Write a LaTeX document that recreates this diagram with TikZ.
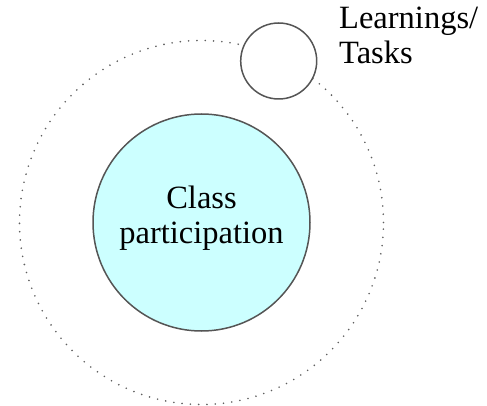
\documentclass[tikz,border=0pt]{standalone}
\usepackage{fontspec}
\setmainfont{Liberation Serif}
\usetikzlibrary{positioning}
\definecolor{mcyan}{RGB}{204,255,255}
\definecolor{mgray}{RGB}{85,85,85}
\definecolor{mdot}{RGB}{95,95,95}

\begin{document}
\begin{tikzpicture}[x=1pt,y=-1pt,
    ring/.style={circle,draw=mgray,line width=1.5pt,inner sep=0pt},
    orbit/.style={draw=mdot,line width=1.8pt,line cap=round,dash pattern=on 0pt off 8.3pt},
    big text/.style={font=\fontsize{32.5}{35}\selectfont}]
  \useasboundingbox (0,0) rectangle (487,406);
  % dotted orbit round the centre
  \draw[orbit] (201.5,222.5) circle[radius=182pt];
  % text box measured from the last baseline
  \node[ring,fill=mcyan,minimum size=217pt,align=center,big text,
        text height=60pt,text depth=18.4pt] (cls) at (201.5,222.5) {Class\\participation};
  % small circle sitting on the orbit
  \node[ring,fill=white,minimum size=76pt] (tasks) at (278.7,61) {};
  \node[anchor=base west,align=left,inner sep=0pt,big text]
    (tasklbl) at (339,63.3) {Learnings/\\Tasks};
\end{tikzpicture}
\end{document}
